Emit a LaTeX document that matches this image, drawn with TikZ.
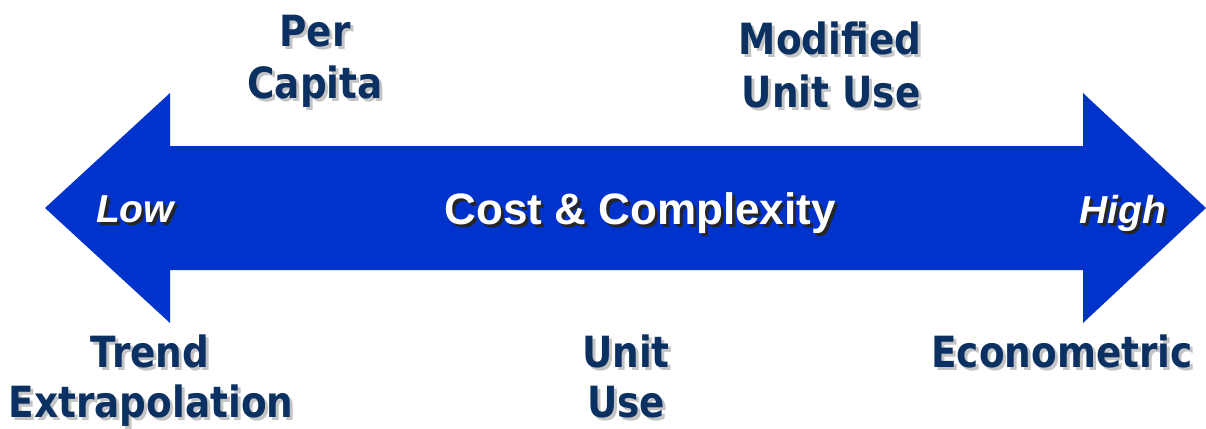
\documentclass[tikz,border=0pt]{standalone}
\usepackage{fontspec}
\setmainfont{Liberation Sans}
\newfontfamily\lblfont[FakeStretch=0.87]{DejaVu Sans}
\definecolor{arrowblue}{HTML}{0033CC}
\definecolor{navy}{HTML}{0B3062}
\definecolor{shadowgray}{HTML}{C4C4C4}
\newcommand\shlabel[6]{%
  \node[#4sh, anchor=base] (#1-sh) at (#2+#5,#3+#5) {#6};
  \node[#4, anchor=base] (#1) at (#2,#3) {#6};}
\begin{document}
\begin{tikzpicture}[x=1pt,y=-1pt,
  lbl/.style={font=\lblfont\bfseries\fontsize{43}{52}\selectfont, text=navy, inner sep=0pt},
  lblsh/.style={lbl, text=shadowgray},
  inner/.style={font=\bfseries\fontsize{44}{52}\selectfont, text=white, inner sep=0pt},
  innersh/.style={inner, text=black!85},
  tag/.style={font=\bfseries\itshape\fontsize{39}{44}\selectfont, text=white, inner sep=0pt},
  tagsh/.style={tag, text=black!85}]
\useasboundingbox (0,0) rectangle (1206,428);
\fill[arrowblue] (45,208) -- (170,93) -- (170,146) -- (1083,146) -- (1083,93)
  -- (1206,208) -- (1083,323) -- (1083,270) -- (170,270) -- (170,323) -- cycle;
\shlabel{per}{315}{47}{lbl}{3}{Per}
\shlabel{capita}{315}{98}{lbl}{3}{Capita}
\shlabel{modified}{830}{55}{lbl}{3}{Modified}
\shlabel{unituse2}{831}{107}{lbl}{3}{Unit Use}
\shlabel{trend}{150}{367}{lbl}{3}{Trend}
\shlabel{extra}{151}{417}{lbl}{3}{Extrapolation}
\shlabel{unit}{626}{367}{lbl}{3}{Unit}
\shlabel{use}{626}{417}{lbl}{3}{Use}
\shlabel{econ}{1062}{367}{lbl}{3}{Econometric}
\shlabel{cost}{640}{224}{inner}{3}{Cost \& Complexity}
\shlabel{low}{135}{222}{tag}{3}{Low}
\shlabel{high}{1123}{223}{tag}{3}{High}
\end{tikzpicture}
\end{document}
